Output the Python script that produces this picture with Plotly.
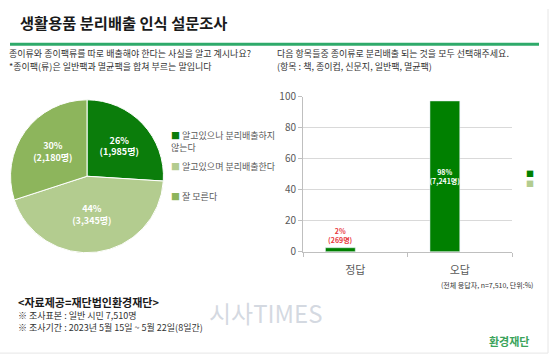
import plotly.graph_objects as go

# ---- data ----
pie_labels = ["알고있으나 분리배출하지 않는다", "알고있으며 분리배출한다", "잘 모른다"]
pie_values = [26, 44, 30]
pie_counts = ["1,985명", "3,345명", "2,180명"]
pie_colors = ["#0b7d0b", "#b3cc8f", "#8db55c"]

bar_categories = ["정답", "오답"]
bar_values = [2.6, 97.4]
bar_labels = ["2%<br>(269명)", "98%<br>(7,241명)"]
bar_empty = [None, None]

FONT = "Noto Sans CJK KR"
W, H = 550, 362

def px(x):
    return x / W

def py(y):
    return 1 - y / H

fig = go.Figure()

fig.add_trace(go.Pie(
    labels=pie_labels, values=pie_values,
    text=[f"{v}%<br>({c})" for v, c in zip(pie_values, pie_counts)],
    textinfo="text", textposition="inside", insidetextorientation="horizontal",
    textfont=dict(color="white", size=9, family=FONT, weight="bold"),
    marker=dict(colors=pie_colors, line=dict(color="white", width=1)),
    sort=False, direction="clockwise", rotation=0,
    domain=dict(x=[px(7), px(167)], y=[py(255), py(95)]),
    showlegend=False, hoverinfo="label+percent",
))

fig.add_trace(go.Bar(
    x=bar_categories, y=bar_values, marker_color="#008000",
    text=bar_labels, textposition=["outside", "inside"],
    insidetextanchor="middle", textangle=0,
    textfont=dict(color=["#e8383d", "white"], size=7, family=FONT, weight="bold"),
    cliponaxis=False, showlegend=False, xaxis="x", yaxis="y",
))
fig.add_trace(go.Bar(
    x=bar_categories, y=bar_empty, marker_color="#b3cc8f",
    showlegend=False, xaxis="x", yaxis="y",
))

fig.update_layout(
    width=W, height=H, margin=dict(l=0, r=0, t=0, b=0),
    paper_bgcolor="white", plot_bgcolor="white",
    font=dict(family=FONT, color="#595959"),
    barmode="group", bargap=0.43, bargroupgap=0,
    uniformtext=dict(minsize=6, mode="show"),
    xaxis=dict(domain=[px(303), px(512)], anchor="y", showline=True,
               linecolor="#bfbfbf", ticks="outside", tickson="boundaries",
               ticklen=4, tickcolor="#bfbfbf", ticklabelstandoff=8,
               tickfont=dict(size=11, color="#595959"), showgrid=False),
    yaxis=dict(domain=[py(254), py(92)], anchor="x", range=[0, 100],
               dtick=20, showline=True, linecolor="#bfbfbf", ticks="outside",
               ticklen=4, tickcolor="#bfbfbf", gridcolor="#d9d9d9",
               tickfont=dict(size=10, color="#595959"), zeroline=False),
)

shapes = [
    dict(type="line", xref="paper", yref="paper", x0=px(10), x1=px(539),
         y0=py(37), y1=py(37), line=dict(color="#2eaa6a", width=3)),
    dict(type="line", xref="paper", yref="paper", x0=px(548), x1=px(548),
         y0=py(0), y1=py(360), line=dict(color="#e6e6e6", width=1)),
    dict(type="line", xref="paper", yref="paper", x0=px(0), x1=px(548),
         y0=py(360), y1=py(360), line=dict(color="#e6e6e6", width=1)),
]
fig.update_layout(shapes=shapes)

def ann(text, x, y, size, color="#333333", xanchor="left", bold=False, yanchor="middle"):
    if bold:
        text = f"<b>{text}</b>"
    fig.add_annotation(text=text, x=px(x), y=py(y), xref="paper", yref="paper",
                       xanchor=xanchor, yanchor=yanchor, showarrow=False,
                       align="left" if xanchor == "left" else "right",
                       font=dict(size=size, color=color, family=FONT))

ann("생활용품 분리배출 인식 설문조사", 18, 14, 15.3, "#1a1a1a", bold=True)
ann("종이류와 종이팩류를 따로 배출해야 한다는 사실을 알고 계시나요?", 7, 47, 9, "#333333")
ann("*종이팩(류)은 일반팩과 멸균팩을 합쳐 부르는 말입니다", 7, 60, 9, "#333333")
ann("다음 항목들중 종이류로 분리배출 되는 것을 모두 선택해주세요.", 275, 47, 9, "#333333")
ann("(항목 : 책, 종이컵, 신문지, 일반팩, 멸균팩)", 275, 60, 9, "#333333")

# pie legend
for lbl, col, y in zip(["알고있으나 분리배출하지<br>않는다", pie_labels[1], pie_labels[2]],
                       pie_colors, [139, 165, 196]):
    fig.add_annotation(text=f"<span style='color:{col}'>■</span> {lbl}",
                       x=px(169), y=py(y), xref="paper", yref="paper",
                       xanchor="left", yanchor="middle", showarrow=False, align="left",
                       font=dict(size=9, color="#595959", family=FONT))

# bar legend markers
ann("<span style='color:#008000'>■</span><br><span style='color:#b3cc8f'>■</span>",
    524, 177.5, 8)

ann("(전체 응답자, n=7,510, 단위:%)", 535, 289, 7, "#333333", xanchor="right")
ann("시사TIMES", 207, 318, 24, "rgba(170,180,195,0.5)")
ann("<자료제공=재단법인환경재단>", 16, 307, 11, "#1a1a1a", bold=True)
ann("※ 조사표본 : 일반 시민 7,510명<br>※ 조사기간 : 2023년 5월 15일 ~ 5월 22일(8일간)",
    16, 327, 9, "#333333")
ann("환경재단", 531, 347, 11, "#3aa35a", xanchor="right", bold=True)

fig.write_html("out.html", config={"displayModeBar": False},
               post_script="document.body.style.margin='0px';")
